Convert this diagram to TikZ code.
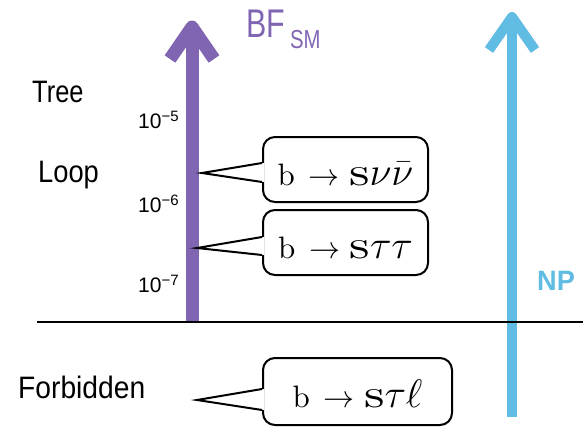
\RequirePackage{fix-cm}
\documentclass[tikz,border=0pt]{standalone}
\usepackage{fontspec}
\usepackage{graphicx}
\usetikzlibrary{calc}
\newfontfamily\labelfont{Liberation Sans}
\newfontfamily\decayfont{lmroman10-regular}[Extension=.otf]
\definecolor{smpurple}{RGB}{128,102,178}
\definecolor{npblue}{RGB}{96,188,226}
% horizontally condensed sans text: scale, size, text
\newcommand{\cond}[3]{\scalebox{#1}[1]{\labelfont\fontsize{#2}{#2}\selectfont #3}}
% decay channel b -> s + final state
\newcommand{\decay}[1]{\decayfont\fontsize{31}{31}\selectfont b\hspace{0.45em}$\rightarrow$\hspace{0.3em}{\fontsize{40}{40}\selectfont\scalebox{1.3}[1]{s}$#1$}}
% power of ten tick label
\newcommand{\expo}[1]{{\labelfont\fontsize{21}{21}\selectfont 10\raisebox{7pt}{\fontsize{15}{15}\selectfont −#1}}}
\begin{document}
\begin{tikzpicture}[x=1pt,y=-1pt,
  smshaft/.style={smpurple,line width=13pt},
  smhead/.style={smpurple,line width=13pt,line join=round},
  npshaft/.style={npblue,line width=10pt},
  nphead/.style={npblue,line width=10pt,line join=round},
  divider/.style={black,line width=2.6pt},
  lbl/.style={inner sep=0pt,anchor=base west},
  callout/.style={draw,line width=2pt,rounded corners=12pt,fill=white,
    inner sep=0pt,text height=31pt,text depth=0pt},
  pointer/.style={line width=2pt,line join=miter},
]
\useasboundingbox (0,0) rectangle (583,431);

% SM branching-fraction axis
\coordinate (smFoot) at (192,322);
\coordinate (smTip) at (192,27);
\draw[smshaft] (smFoot) -- ($(smTip)+(0,4)$);
\draw[smhead] ($(smTip)+(-22,32)$) -- (smTip) -- ($(smTip)+(22,32)$);

% new-physics axis
\coordinate (npFoot) at (512,417);
\coordinate (npTip) at (512,17);
\draw[npshaft] (npFoot) -- ($(npTip)+(0,4)$);
\draw[nphead] ($(npTip)+(-23,33)$) -- (npTip) -- ($(npTip)+(23,33)$);

% allowed / forbidden divider
\coordinate (divL) at (37,322);
\coordinate (divR) at (583,322);
\draw[divider] (divL) -- (divR);

% axis titles
\node[lbl,text=smpurple] (bf) at (246,37) {\cond{0.76}{40}{BF}};
\node[lbl,text=smpurple] (sm) at (290,48) {\cond{0.78}{26}{SM}};
\node[lbl,text=npblue] (np) at (537,290) {\cond{0.97}{28}{\bfseries NP}};

% regime labels
\node[lbl] (tree) at (32,102) {\cond{0.82}{31}{Tree}};
\node[lbl] (loop) at (38,182) {\cond{0.88}{31}{Loop}};
\node[lbl] (forb) at (18,398) {\cond{0.91}{31}{Forbidden}};

% scale ticks
\node[lbl] (e5) at (138,128) {\expo{5}};
\node[lbl] (e6) at (138,212) {\expo{6}};
\node[lbl] (e7) at (138,292) {\expo{7}};

% callouts
\coordinate (tipA) at (202,173);
\node[callout,minimum width=165pt,minimum height=65pt] (boxA) at (345.5,169.5) {\decay{\nu\bar\nu}};
\fill[white] (tipA) -- ($(boxA.west)+(2,-6.5)$) -- ($(boxA.west)+(2,12.5)$) -- cycle;
\draw[pointer] ($(boxA.west)+(0,-6.5)$) -- (tipA) -- ($(boxA.west)+(0,12.5)$);

\coordinate (tipB) at (197,248);
\node[callout,minimum width=165pt,minimum height=65pt] (boxB) at (345.5,242.5) {\decay{\tau\tau}};
\fill[white] (tipB) -- ($(boxB.west)+(2,-5.5)$) -- ($(boxB.west)+(2,12.5)$) -- cycle;
\draw[pointer] ($(boxB.west)+(0,-5.5)$) -- (tipB) -- ($(boxB.west)+(0,12.5)$);

\coordinate (tipC) at (197,400);
\node[callout,minimum width=189pt,minimum height=67pt] (boxC) at (357.5,391.5) {\decay{\tau\ell}};
\fill[white] (tipC) -- ($(boxC.west)+(2,-2.5)$) -- ($(boxC.west)+(2,18.5)$) -- cycle;
\draw[pointer] ($(boxC.west)+(0,-2.5)$) -- (tipC) -- ($(boxC.west)+(0,18.5)$);
\end{tikzpicture}
\end{document}
